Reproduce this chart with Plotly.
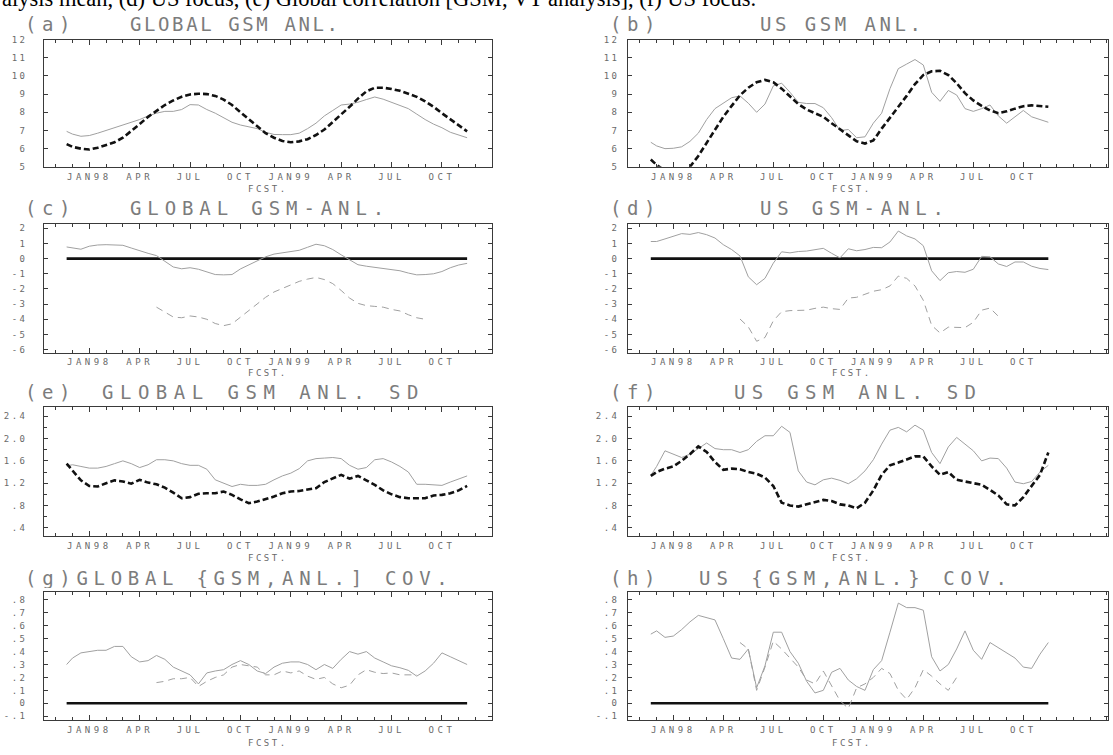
import plotly.graph_objects as go

# ---------------- data ----------------
MONTHS = [-1.35, -1.0, -0.5, 0.0, 0.5, 1.0, 1.5, 2.0, 2.5, 3.0, 3.5, 4.0, 4.5, 5.0, 5.5, 6.0,
          6.5, 7.0, 7.5, 8.0, 8.5, 9.0, 9.5, 10.0, 10.5, 11.0, 11.5, 12.0, 12.5, 13.0, 13.5,
          14.0, 14.5, 15.0, 15.5, 16.0, 16.5, 17.0, 17.5, 18.0, 18.5, 19.0, 19.5, 20.0, 20.5,
          21.0, 21.5, 22.0, 22.5]

XTICK_VALS = [0, 3, 6, 9, 12, 15, 18, 21]
XTICK_TEXT = ["JAN98", "APR", "JUL", "OCT", "JAN99", "APR", "JUL", "OCT"]

ZERO_X = [-1.35, 22.5]
ZERO_Y = [0.0, 0.0]

# (a) Global GSM / ANL
A_DASH = [6.25, 6.1, 6.0, 5.95, 6.05, 6.2, 6.35, 6.6, 6.95, 7.35,
          7.75, 8.1, 8.4, 8.65, 8.85, 8.98, 9.02, 9.0, 8.9, 8.7,
          8.4, 8.0, 7.6, 7.2, 6.85, 6.6, 6.42, 6.35, 6.4, 6.52,
          6.75, 7.05, 7.45, 7.85, 8.3, 8.75, 9.15, 9.35, 9.35, 9.28,
          9.18, 9.02, 8.85, 8.6, 8.3, 7.95, 7.6, 7.25, 6.95]
A_SOLID = [6.95, 6.8, 6.68, 6.72, 6.85, 7.0, 7.15, 7.3, 7.45, 7.6,
           7.8, 7.95, 8.05, 8.05, 8.15, 8.42, 8.4, 8.15, 7.95, 7.7,
           7.45, 7.3, 7.2, 7.1, 6.9, 6.78, 6.77, 6.77, 6.85, 7.1,
           7.4, 7.8, 8.1, 8.4, 8.45, 8.55, 8.7, 8.84, 8.72, 8.55,
           8.4, 8.2, 7.9, 7.6, 7.35, 7.15, 6.9, 6.75, 6.6]

# (b) US GSM / ANL
B_DASH = [5.4, 5.1, 4.8, 4.6, 4.7, 5.0, 5.6, 6.3, 7.0, 7.75,
          8.35, 8.93, 9.35, 9.65, 9.78, 9.65, 9.3, 8.85, 8.45, 8.15,
          7.95, 7.75, 7.4, 7.05, 6.7, 6.4, 6.28, 6.45, 7.1, 7.7,
          8.25, 8.9, 9.55, 10.05, 10.25, 10.28, 10.05, 9.6, 9.05, 8.65,
          8.35, 8.1, 7.95, 8.05, 8.2, 8.33, 8.38, 8.35, 8.3]
B_SOLID = [6.35, 6.15, 6.0, 6.02, 6.1, 6.4, 6.85, 7.6, 8.2, 8.5,
           8.8, 8.9, 8.5, 8.0, 8.45, 9.45, 9.6, 9.1, 8.55, 8.48,
           8.48, 8.25, 7.7, 7.0, 7.05, 6.6, 6.65, 7.4, 7.95, 9.3,
           10.4, 10.65, 10.9, 10.6, 9.1, 8.6, 9.2, 8.95, 8.2, 8.05,
           8.2, 8.4, 7.8, 7.4, 7.75, 8.1, 7.75, 7.6, 7.45]

# (c) Global GSM-ANL
C_SOLID = [0.77, 0.7, 0.62, 0.82, 0.9, 0.92, 0.92, 0.88, 0.7, 0.5,
           0.35, 0.2, -0.2, -0.55, -0.67, -0.6, -0.7, -0.88, -1.05, -1.07,
           -1.05, -0.68, -0.4, -0.15, 0.12, 0.3, 0.4, 0.45, 0.55, 0.75,
           0.95, 0.85, 0.6, 0.25, -0.1, -0.4, -0.5, -0.58, -0.65, -0.72,
           -0.8, -0.95, -1.07, -1.05, -1.0, -0.85, -0.6, -0.42, -0.31]
C_DASH = [None] * 11 + [
    -3.2, -3.55, -3.85, -3.9, -3.78, -3.85, -4.0, -4.28, -4.42, -4.3,
    -3.85, -3.45, -2.95, -2.55, -2.2, -1.95, -1.72, -1.5, -1.35, -1.24,
    -1.38, -1.65, -2.1, -2.6, -2.95, -3.1, -3.15, -3.2, -3.35, -3.45,
    -3.7, -3.9, -4.0] + [None] * 5

# (d) US GSM-ANL
D_SOLID = [1.13, 1.13, 1.3, 1.45, 1.65, 1.6, 1.72, 1.58, 1.36, 0.92,
           0.6, 0.18, -1.2, -1.72, -1.3, -0.3, 0.45, 0.38, 0.47, 0.5,
           0.6, 0.68, 0.35, 0.05, 0.65, 0.52, 0.6, 0.74, 0.72, 1.1,
           1.82, 1.5, 1.3, 0.85, -0.8, -1.45, -0.93, -0.85, -0.9, -0.7,
           0.15, 0.12, -0.35, -0.52, -0.22, -0.22, -0.5, -0.65, -0.72]
D_DASH = [None] * 11 + [
    -3.98, -4.5, -5.45, -5.2, -4.1, -3.5, -3.43, -3.43, -3.4, -3.28,
    -3.2, -3.3, -3.35, -2.6, -2.55, -2.35, -2.15, -2.05, -1.8, -1.15,
    -1.3, -1.8, -2.75, -4.4, -4.9, -4.52, -4.52, -4.55, -4.2, -3.4,
    -3.26, -3.8] + [None] * 6

# (e) Global SD
E_DASH = [1.55, 1.42, 1.25, 1.15, 1.14, 1.2, 1.25, 1.23, 1.19, 1.26,
          1.21, 1.18, 1.12, 1.03, 0.93, 0.95, 1.01, 1.02, 1.02, 1.05,
          0.99, 0.91, 0.84, 0.87, 0.91, 0.96, 1.02, 1.05, 1.06, 1.08,
          1.11, 1.22, 1.29, 1.35, 1.28, 1.33, 1.25, 1.17, 1.07, 1.0,
          0.95, 0.93, 0.93, 0.93, 0.98, 0.99, 1.02, 1.07, 1.15]
E_SOLID = [1.51, 1.53, 1.5, 1.47, 1.47, 1.5, 1.55, 1.6, 1.55, 1.48,
           1.53, 1.62, 1.62, 1.6, 1.55, 1.52, 1.52, 1.45, 1.26, 1.2,
           1.14, 1.18, 1.16, 1.16, 1.18, 1.26, 1.33, 1.38, 1.46, 1.6,
           1.64, 1.65, 1.66, 1.64, 1.52, 1.45, 1.48, 1.62, 1.64, 1.58,
           1.5, 1.4, 1.18, 1.18, 1.17, 1.16, 1.22, 1.27, 1.33]

# (f) US SD
F_DASH = [1.33, 1.4, 1.46, 1.5, 1.6, 1.72, 1.86, 1.76, 1.58, 1.44,
          1.46, 1.45, 1.4, 1.37, 1.3, 1.15, 0.85, 0.8, 0.78, 0.82,
          0.86, 0.9, 0.88, 0.82, 0.8, 0.75, 0.85, 1.07, 1.35, 1.52,
          1.57, 1.62, 1.68, 1.68, 1.5, 1.35, 1.4, 1.26, 1.23, 1.21,
          1.17, 1.08, 0.98, 0.82, 0.8, 0.95, 1.14, 1.35, 1.75]
F_SOLID = [1.34, 1.5, 1.78, 1.72, 1.66, 1.72, 1.82, 1.92, 1.82, 1.8,
           1.8, 1.75, 1.8, 1.95, 2.05, 2.05, 2.22, 2.11, 1.42, 1.22,
           1.17, 1.26, 1.29, 1.25, 1.19, 1.28, 1.42, 1.62, 1.9, 2.15,
           2.2, 2.12, 2.24, 2.15, 1.75, 1.55, 1.85, 2.02, 1.9, 1.78,
           1.6, 1.65, 1.64, 1.47, 1.22, 1.19, 1.23, 1.4, 1.52]

# (g) Global covariance
G_SOLID = [0.3, 0.35, 0.39, 0.4, 0.41, 0.41, 0.44, 0.44, 0.36, 0.32,
           0.33, 0.37, 0.34, 0.28, 0.25, 0.22, 0.15, 0.235, 0.25, 0.26,
           0.3, 0.33, 0.3, 0.25, 0.23, 0.28, 0.31, 0.32, 0.32, 0.3,
           0.26, 0.3, 0.27, 0.34, 0.4, 0.38, 0.4, 0.35, 0.32, 0.29,
           0.275, 0.255, 0.21, 0.25, 0.31, 0.39, 0.36, 0.33, 0.3]
G_DASH = [None] * 11 + [
    0.16, 0.17, 0.19, 0.19, 0.2, 0.13, 0.17, 0.2, 0.22, 0.28,
    0.3, 0.29, 0.28, 0.22, 0.22, 0.25, 0.235, 0.25, 0.21, 0.185,
    0.2, 0.15, 0.12, 0.14, 0.22, 0.26, 0.24, 0.23, 0.235, 0.22,
    0.22, 0.22] + [None] * 6

# (h) US covariance
H_SOLID = [0.535, 0.56, 0.51, 0.52, 0.57, 0.63, 0.68, 0.66, 0.645, 0.5,
           0.35, 0.34, 0.42, 0.12, 0.29, 0.55, 0.55, 0.4, 0.31, 0.17,
           0.08, 0.1, 0.24, 0.27, 0.18, 0.13, 0.1, 0.26, 0.33, 0.55,
           0.775, 0.74, 0.74, 0.72, 0.36, 0.25, 0.3, 0.42, 0.56, 0.41,
           0.34, 0.47, 0.43, 0.39, 0.35, 0.28, 0.27, 0.38, 0.47]
H_DASH = [None] * 11 + [
    0.47, 0.42, 0.1, 0.28, 0.48, 0.42, 0.35, 0.28, 0.18, 0.15,
    0.25, 0.14, 0.02, -0.04, 0.12, 0.15, 0.2, 0.27, 0.23, 0.1,
    0.03, 0.12, 0.26, 0.21, 0.15, 0.1, 0.2] + [None] * 11

# y-axis ticks
AB_YTICKS = [5, 6, 7, 8, 9, 10, 11, 12]
AB_YTEXT = ["5", "6", "7", "8", "9", "10", "11", "12"]
CD_YTICKS = [2, 1, 0, -1, -2, -3, -4, -5, -6]
CD_YTEXT = ["2", "1", "0", "-1", "-2", "-3", "-4", "-5", "-6"]
EF_YTICKS = [2.4, 2.0, 1.6, 1.2, 0.8, 0.4]
EF_YTEXT = ["2.4", "2.0", "1.6", "1.2", ".8", ".4"]
GH_YTICKS = [0.8, 0.7, 0.6, 0.5, 0.4, 0.3, 0.2, 0.1, 0.0, -0.1]
GH_YTEXT = [".8", ".7", ".6", ".5", ".4", ".3", ".2", ".1", "0", "-.1"]

PANEL_LABELS = ["(a)", "(b)", "(c)", "(d)", "(e)", "(f)", "(g)", "(h)"]
PANEL_TITLES = ["GLOBAL GSM ANL.", "US GSM ANL.", "GLOBAL GSM-ANL.", "US GSM-ANL.",
                "GLOBAL GSM ANL. SD", "US GSM ANL. SD", "GLOBAL {GSM,ANL.] COV.",
                "US {GSM,ANL.} COV."]
XLABEL = "FCST."
CAPTION = ("alysis mean, (d) US focus, (e) Global correlation [GSM, VT analysis], "
           "(f) US focus.")

# ---------------- layout geometry (pixels) ----------------
W, H = 1113, 755
COL_X = [(44.3, 492.3), (628.3, 1108.0)]
COL_RANGE = [(-2.68, 24.0), (-2.70, 26.08)]
COL_FCST_X = [268, 852]
ROW_Y = [(35.0, 164.0), (221.7, 352.3), (407.7, 538.3), (595.0, 724.3)]
ROW_TITLE_Y = [19, 205, 392, 580]
ROW_FCST_Y = [186, 373, 560, 748]
Y_RANGES = [(5, 12), (-6.2, 2.3), (0.25, 2.56), (-0.127, 0.86)]
LABEL_X = [23, 608]
TITLE_X = [128, 758, 128, 758, 100, 732, 71, 697]
TITLE_LS = [2.6, 3.5, 5.9, 5.8, 6.5, 6.3, 5.7, 6.0]

TEXT_GREY = "#6a6a6a"
TITLE_GREY = "#7c7c7c"
FRAME = "#3a3a3a"
MONO = "DejaVu Sans Mono"


def spaced(t, ls):
    return f'<span style="letter-spacing:{ls}px">{t}</span>'


def fx(p):
    return p / W


def fy(p):
    return 1 - p / H


THICK_DASH = dict(color="#111111", width=2.6, dash="6px,3px")
THIN_SOLID = dict(color="#a0a0a0", width=1)
THIN_DASH = dict(color="#a0a0a0", width=1, dash="7px,5px")
ZERO_LINE = dict(color="#111111", width=2.6)

panels = [
    [(A_SOLID, THIN_SOLID), (A_DASH, THICK_DASH)],
    [(B_SOLID, THIN_SOLID), (B_DASH, THICK_DASH)],
    [("zero", ZERO_LINE), (C_SOLID, THIN_SOLID), (C_DASH, THIN_DASH)],
    [("zero", ZERO_LINE), (D_SOLID, THIN_SOLID), (D_DASH, THIN_DASH)],
    [(E_SOLID, THIN_SOLID), (E_DASH, THICK_DASH)],
    [(F_SOLID, THIN_SOLID), (F_DASH, THICK_DASH)],
    [("zero", ZERO_LINE), (G_SOLID, THIN_SOLID), (G_DASH, THIN_DASH)],
    [("zero", ZERO_LINE), (H_SOLID, THIN_SOLID), (H_DASH, THIN_DASH)],
]
Y_TICKS = [(AB_YTICKS, AB_YTEXT), (CD_YTICKS, CD_YTEXT), (EF_YTICKS, EF_YTEXT), (GH_YTICKS, GH_YTEXT)]
Y_MINOR = [None, None, 0.2, None]

fig = go.Figure()
layout = dict(width=W, height=H, margin=dict(l=0, r=0, t=0, b=0),
              paper_bgcolor="white", plot_bgcolor="white", showlegend=False)
annotations = []
tick_font = dict(family=MONO, size=9, color=TEXT_GREY)
title_font = dict(family=MONO, size=19, color=TITLE_GREY)

for i, series in enumerate(panels):
    n = i + 1
    row, col = i // 2, i % 2
    xs = "x" if n == 1 else f"x{n}"
    ys = "y" if n == 1 else f"y{n}"
    for yvals, style in series:
        if isinstance(yvals, str):
            fig.add_trace(go.Scatter(x=ZERO_X, y=ZERO_Y, mode="lines", line=style,
                                     xaxis=xs, yaxis=ys, hoverinfo="skip"))
        else:
            fig.add_trace(go.Scatter(x=MONTHS, y=yvals, mode="lines", line=style,
                                     connectgaps=False, xaxis=xs, yaxis=ys))
    x0, x1 = COL_X[col]
    yt, yb = ROW_Y[row]
    xkey = "xaxis" if n == 1 else f"xaxis{n}"
    ykey = "yaxis" if n == 1 else f"yaxis{n}"
    layout[xkey] = dict(
        domain=[fx(x0), fx(x1)], range=list(COL_RANGE[col]), anchor=ys,
        tickmode="array", tickvals=XTICK_VALS,
        ticktext=[spaced(t, 3.5) for t in XTICK_TEXT],
        ticks="inside", ticklen=5, tickwidth=1, tickcolor=FRAME,
        showline=True, linecolor=FRAME, linewidth=1, mirror="ticks",
        showgrid=False, zeroline=False, tickfont=tick_font, ticklabelstandoff=1,
        minor=dict(tickmode="linear", tick0=0, dtick=1, ticks="inside", ticklen=3,
                   tickcolor=FRAME, showgrid=False),
    )
    tv, tt = Y_TICKS[row]
    yax = dict(
        domain=[fy(yb), fy(yt)], range=list(Y_RANGES[row]), anchor=xs,
        tickmode="array", tickvals=tv, ticktext=[spaced(t, 2.5) for t in tt],
        ticks="inside", ticklen=4, tickwidth=1, tickcolor=FRAME,
        showline=True, linecolor=FRAME, linewidth=1, mirror="ticks",
        showgrid=False, zeroline=False, tickfont=tick_font,
        ticklabelstandoff=14 if col == 0 else 6,
    )
    if Y_MINOR[row]:
        yax["minor"] = dict(tickmode="linear", tick0=0, dtick=Y_MINOR[row], ticks="inside",
                            ticklen=3, tickcolor=FRAME, showgrid=False)
    layout[ykey] = yax

    # panel label and title
    if i != 6:
        annotations.append(dict(text=spaced(PANEL_LABELS[i], 5.5), x=fx(LABEL_X[col]),
                                y=fy(ROW_TITLE_Y[row]), xref="paper", yref="paper",
                                xanchor="left", yanchor="middle", height=21, valign="middle",
                                showarrow=False, font=title_font))
        title_text = PANEL_TITLES[i]
        title_x = TITLE_X[i]
    else:
        title_text = PANEL_LABELS[i] + PANEL_TITLES[i]
        title_x = LABEL_X[col]
    annotations.append(dict(text=spaced(title_text, TITLE_LS[i]),
                            x=fx(title_x), y=fy(ROW_TITLE_Y[row]),
                            xref="paper", yref="paper", xanchor="left", yanchor="middle",
                            height=21, valign="middle",
                            showarrow=False, font=title_font))
    # x label
    annotations.append(dict(text=spaced(XLABEL, 2.5), x=fx(COL_FCST_X[col]), y=fy(ROW_FCST_Y[row]),
                            xref="paper", yref="paper", xanchor="center", yanchor="middle",
                            showarrow=False, font=tick_font))

# caption (clipped at the top like the scanned figure)
annotations.append(dict(text=CAPTION, x=0, y=fy(8.5), xref="paper", yref="paper",
                        xanchor="left", yanchor="bottom", height=14, valign="bottom",
                        showarrow=False,
                        font=dict(family="Liberation Serif", size=22.5, color="#000000")))

layout["annotations"] = annotations
fig.update_layout(**layout)
fig.write_html("out.html", config={"displayModeBar": False},
               post_script="document.body.style.margin='0px';")
